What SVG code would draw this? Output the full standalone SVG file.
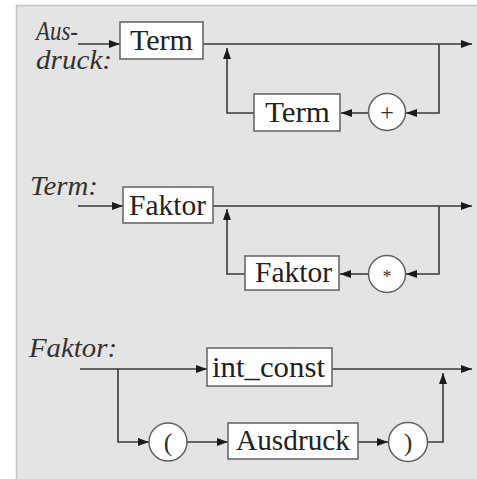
<svg xmlns="http://www.w3.org/2000/svg" width="477" height="479" viewBox="0 0 477 479">
<style>
.bg{fill:#e4e4e4;stroke:#c4c4c4;stroke-width:1.5}
.box{fill:#fff;stroke:#606060;stroke-width:1.5}
.circ{fill:#fff;stroke:#606060;stroke-width:1.5}
.t{font-family:'Liberation Serif',serif;font-size:29px;fill:#222;text-anchor:middle}
.lab{font-family:'Liberation Serif',serif;font-size:28px;font-style:italic;fill:#333}
.sym{font-family:'Liberation Serif',serif;fill:#333;text-anchor:middle}
.c{fill:none;stroke:#3a3a3a;stroke-width:1.6}
</style>
<defs>
<marker id="ah" viewBox="0 0 11 8" refX="11" refY="4" markerWidth="11" markerHeight="8" markerUnits="userSpaceOnUse" orient="auto">
<path d="M0,0 L11,4 L0,8 Z" fill="#1a1a1a"/>
</marker>
</defs>
<rect class="bg" x="16.5" y="5.5" width="462" height="476"/>
<text class="lab" x="36" y="40" textLength="42" lengthAdjust="spacingAndGlyphs">Aus-</text>
<text class="lab" x="36" y="69" textLength="76" lengthAdjust="spacingAndGlyphs">druck:</text>
<text class="lab" x="30" y="195" textLength="68" lengthAdjust="spacingAndGlyphs">Term:</text>
<text class="lab" x="29" y="357" textLength="88" lengthAdjust="spacingAndGlyphs">Faktor:</text>
<g id="connectors">
<path class="c" d="M78,44 H120" marker-end="url(#ah)"/>
<path class="c" d="M203,44 H472" marker-end="url(#ah)"/>
<path class="c" d="M439,44 V113 H406" marker-end="url(#ah)"/>
<path class="c" d="M368,113 H341" marker-end="url(#ah)"/>
<path class="c" d="M254,113 H227 V48" marker-end="url(#ah)"/>
<path class="c" d="M78,206 H123" marker-end="url(#ah)"/>
<path class="c" d="M213,206 H472" marker-end="url(#ah)"/>
<path class="c" d="M439,206 V274 H406" marker-end="url(#ah)"/>
<path class="c" d="M368,274 H340" marker-end="url(#ah)"/>
<path class="c" d="M245,274 H227 V209" marker-end="url(#ah)"/>
<path class="c" d="M80,369 H207" marker-end="url(#ah)"/>
<path class="c" d="M332,369 H472" marker-end="url(#ah)"/>
<path class="c" d="M118,369 V442 H149" marker-end="url(#ah)"/>
<path class="c" d="M187,442 H228" marker-end="url(#ah)"/>
<path class="c" d="M358,442 H388" marker-end="url(#ah)"/>
<path class="c" d="M427,442 H443 V373" marker-end="url(#ah)"/>
</g>
<g id="term1"><rect class="box" x="120" y="22" width="83" height="37"/><text class="t" x="161.5" y="50" textLength="63" lengthAdjust="spacingAndGlyphs">Term</text></g>
<g id="term2"><rect class="box" x="254" y="94" width="86" height="37"/><text class="t" x="297.5" y="122" textLength="65" lengthAdjust="spacingAndGlyphs">Term</text></g>
<g id="plus"><circle class="circ" cx="387" cy="112" r="18.5"/><text class="sym" x="387" y="120" font-size="24">+</text></g>
<g id="faktor1"><rect class="box" x="123" y="187" width="90" height="36"/><text class="t" x="167.5" y="215" textLength="77" lengthAdjust="spacingAndGlyphs">Faktor</text></g>
<g id="faktor2"><rect class="box" x="245" y="256" width="94" height="34"/><text class="t" x="293.5" y="282" textLength="77" lengthAdjust="spacingAndGlyphs">Faktor</text></g>
<g id="star"><circle class="circ" cx="387" cy="274" r="18.5"/><text class="sym" x="387" y="283" font-size="18">*</text></g>
<g id="intconst"><rect class="box" x="207" y="348" width="125" height="38"/><text class="t" x="268.5" y="377" textLength="113" lengthAdjust="spacingAndGlyphs">int_const</text></g>
<g id="lparen"><circle class="circ" cx="168" cy="442" r="19"/><text class="sym" x="168" y="451" font-size="26">(</text></g>
<g id="ausdruck"><rect class="box" x="228" y="423" width="130" height="36"/><text class="t" x="293" y="450" textLength="114" lengthAdjust="spacingAndGlyphs">Ausdruck</text></g>
<g id="rparen"><circle class="circ" cx="408" cy="442" r="19.5"/><text class="sym" x="408" y="451" font-size="26">)</text></g>
</svg>
